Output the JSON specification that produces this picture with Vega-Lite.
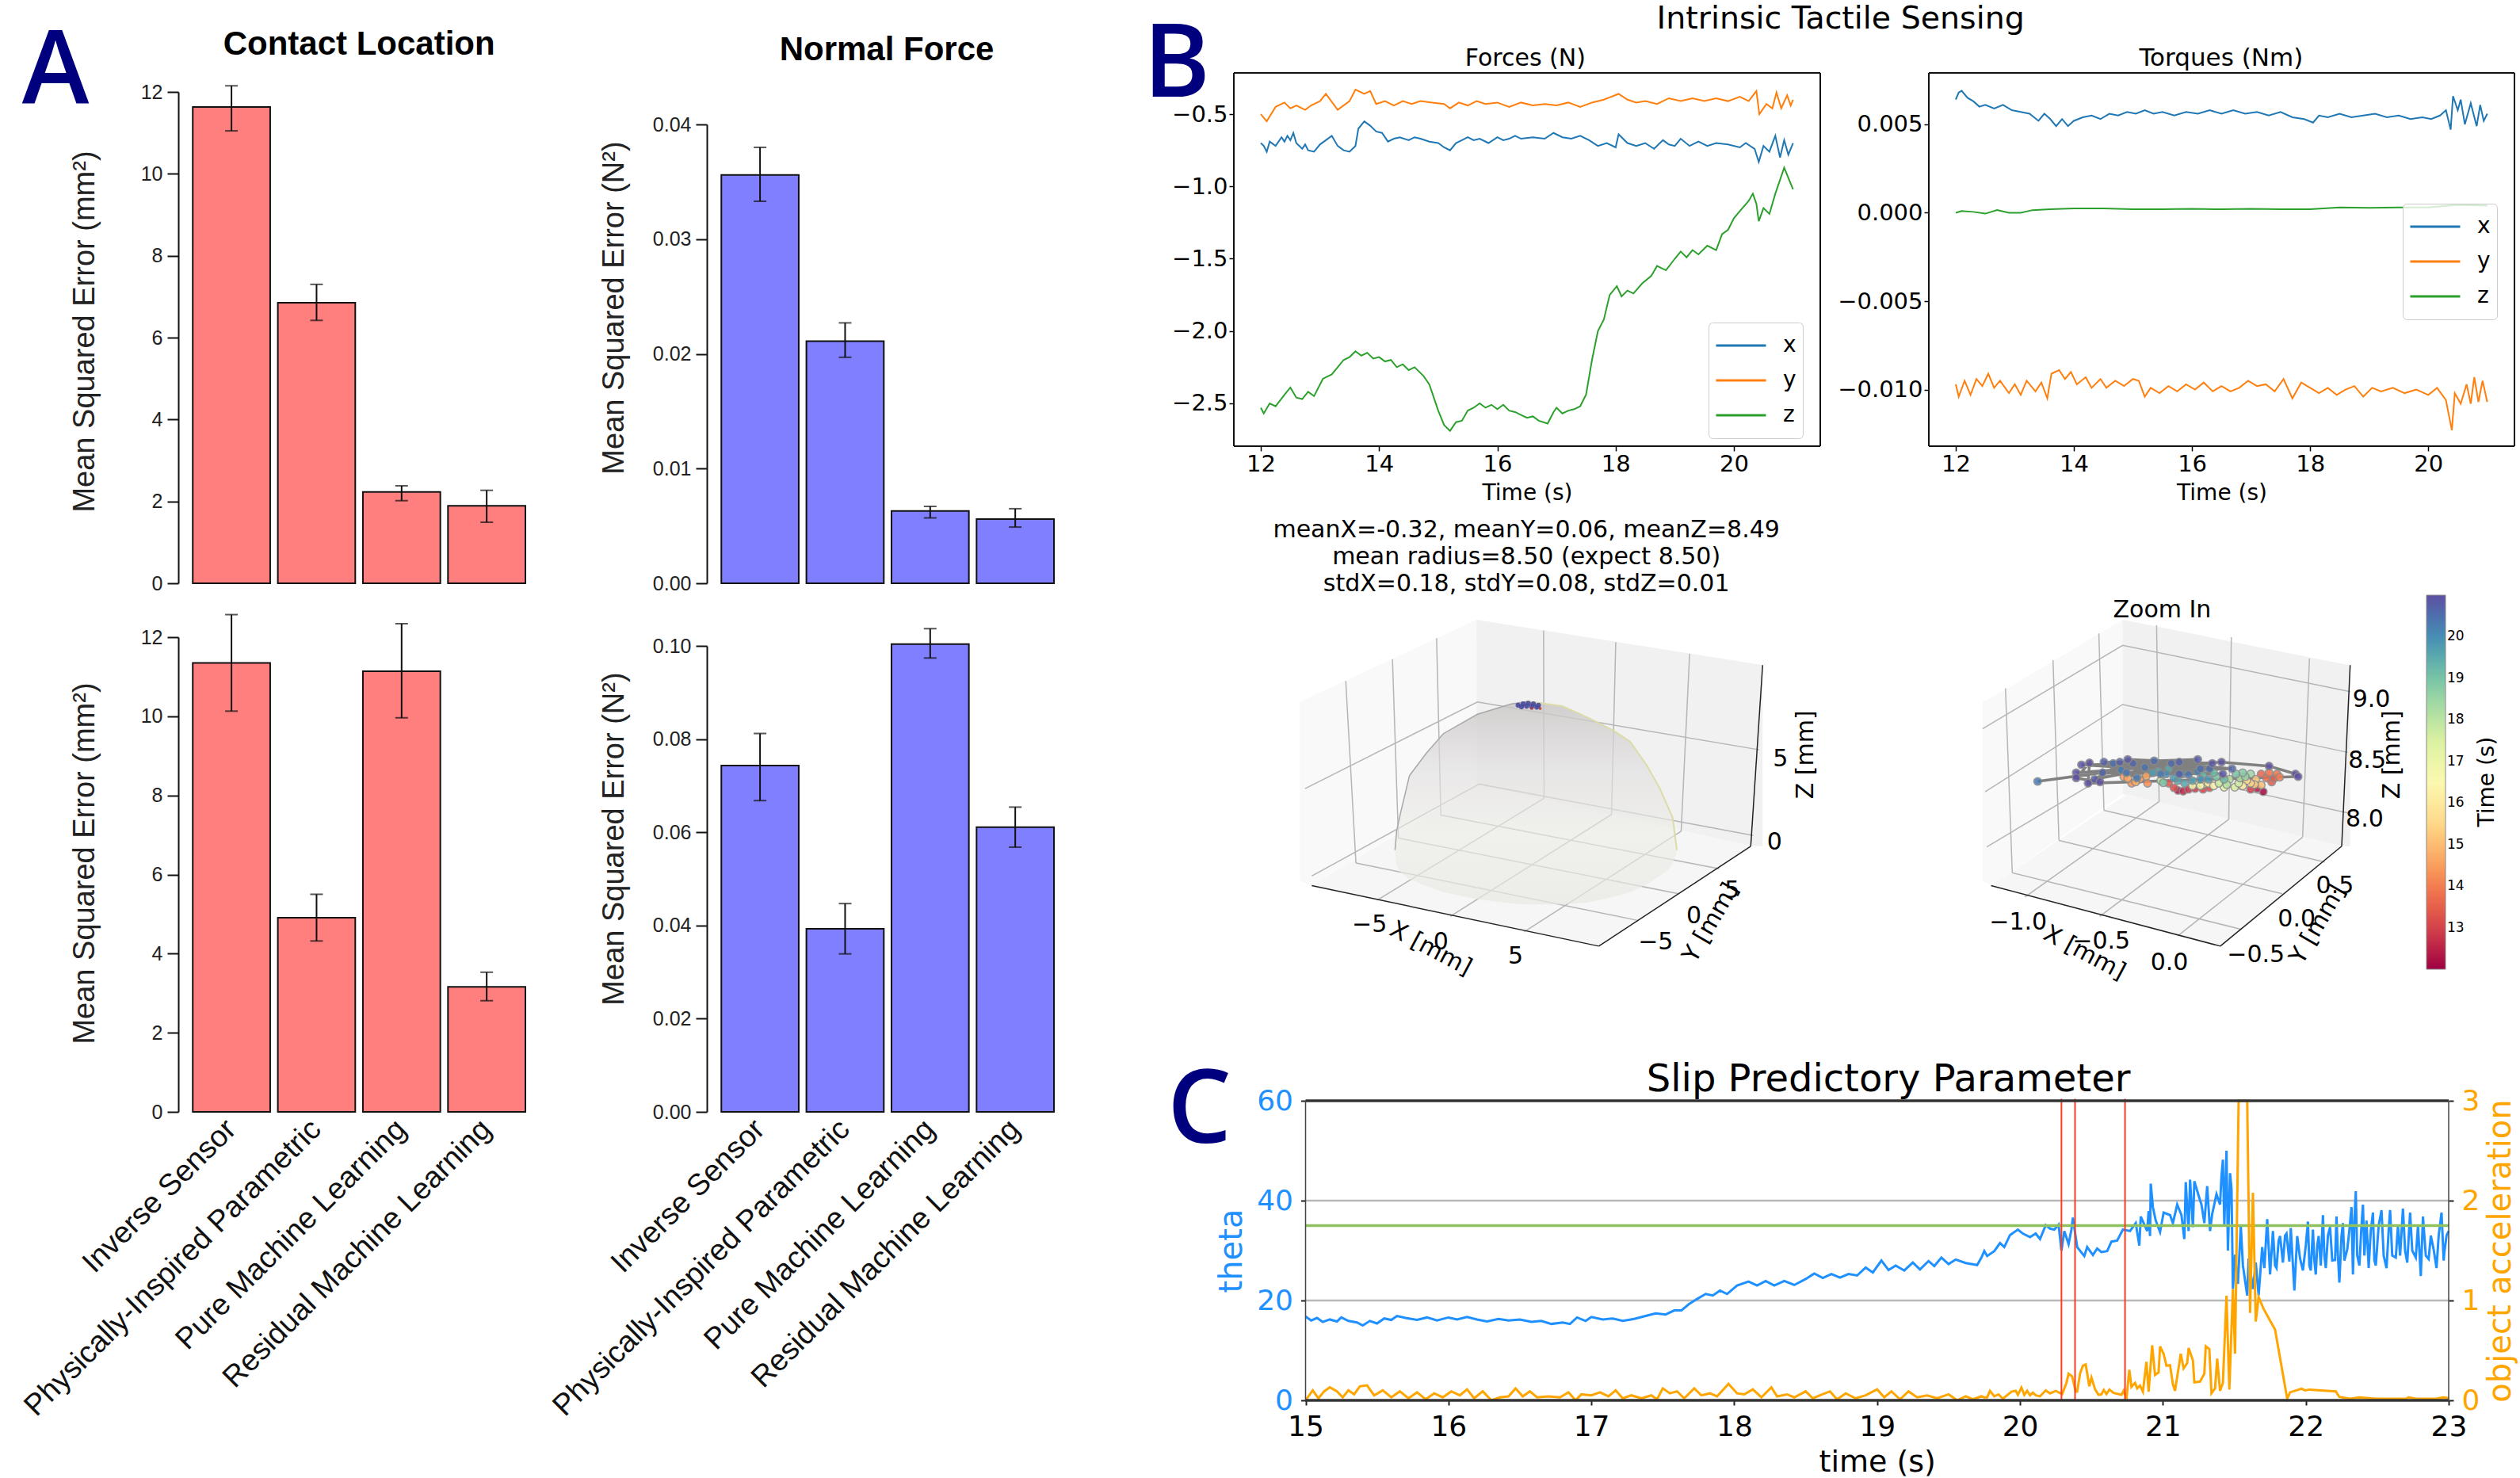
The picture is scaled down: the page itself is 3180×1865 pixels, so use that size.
{"$schema":"https://vega.github.io/schema/vega-lite/v6.json","width":3180,"height":1865,"autosize":{"type":"none"},"padding":0,"background":"white","view":{"stroke":null},
"resolve":{"scale":{"x":"independent","y":"independent","color":"independent"},"axis":{"x":"independent","y":"independent"},"legend":{"color":"independent"}},
"layer":[
{"resolve":{"axis":{"x":"independent","y":"independent"}},"data":{"values":[{"m":"Inverse Sensor","e":11.63,"lo":11.05,"hi":12.15},{"m":"Physically-Inspired Parametric","e":6.85,"lo":6.42,"hi":7.3},{"m":"Pure Machine Learning","e":2.23,"lo":2.02,"hi":2.38},{"m":"Residual Machine Learning","e":1.89,"lo":1.49,"hi":2.27}]},
"layer":[
{"mark":{"type":"bar","fill":"#ff7f7f","stroke":"#111","strokeWidth":2},"encoding":{"x":{"field":"m","type":"nominal","sort":null,"scale":{"range":[225,663],"paddingInner":0.09,"paddingOuter":0.085,"align":1},"axis":null},"y":{"field":"e","type":"quantitative","scale":{"domain":[0,12],"range":[736,116],"nice":false},"axis":{"orient":"left","offset":-225,"title":"Mean Squared Error (mm²)","titleFont":"Liberation Sans","titleFontSize":38,"titleFontWeight":"normal","titleX":-118,"titleY":418,"titleBaseline":"middle","titleColor":"#222","values":[0,2,4,6,8,10,12],"format":"d","labelFont":"Liberation Sans","labelFontSize":25,"labelColor":"#222","tickSize":14,"tickWidth":2,"tickColor":"#111","domainColor":"#111","domainWidth":2,"grid":false,"labelPadding":6}}}},
{"mark":{"type":"rule","color":"#111","strokeWidth":2},"encoding":{"x":{"field":"m","type":"nominal","sort":null,"axis":null},"y":{"field":"lo","type":"quantitative","axis":null},"y2":{"field":"hi"}}},
{"mark":{"type":"tick","orient":"horizontal","size":16,"thickness":2,"color":"#111"},"encoding":{"x":{"field":"m","type":"nominal","sort":null,"axis":null},"y":{"field":"lo","type":"quantitative","axis":null}}},
{"mark":{"type":"tick","orient":"horizontal","size":16,"thickness":2,"color":"#111"},"encoding":{"x":{"field":"m","type":"nominal","sort":null,"axis":null},"y":{"field":"hi","type":"quantitative","axis":null}}}
]},
{"resolve":{"axis":{"x":"independent","y":"independent"}},"data":{"values":[{"m":"Inverse Sensor","e":0.0356,"lo":0.0333,"hi":0.038},{"m":"Physically-Inspired Parametric","e":0.0211,"lo":0.0197,"hi":0.0227},{"m":"Pure Machine Learning","e":0.0063,"lo":0.0057,"hi":0.0067},{"m":"Residual Machine Learning","e":0.0056,"lo":0.0049,"hi":0.0065}]},
"layer":[
{"mark":{"type":"bar","fill":"#7f7fff","stroke":"#111","strokeWidth":2},"encoding":{"x":{"field":"m","type":"nominal","sort":null,"scale":{"range":[892,1330],"paddingInner":0.09,"paddingOuter":0.085,"align":1},"axis":null},"y":{"field":"e","type":"quantitative","scale":{"domain":[0,0.04],"range":[736,157],"nice":false},"axis":{"orient":"left","offset":-892,"title":"Mean Squared Error (N²)","titleFont":"Liberation Sans","titleFontSize":38,"titleFontWeight":"normal","titleX":-117,"titleY":388,"titleBaseline":"middle","titleColor":"#222","values":[0,0.01,0.02,0.03,0.04],"format":".2f","labelFont":"Liberation Sans","labelFontSize":25,"labelColor":"#222","tickSize":14,"tickWidth":2,"tickColor":"#111","domainColor":"#111","domainWidth":2,"grid":false,"labelPadding":6}}}},
{"mark":{"type":"rule","color":"#111","strokeWidth":2},"encoding":{"x":{"field":"m","type":"nominal","sort":null,"axis":null},"y":{"field":"lo","type":"quantitative","axis":null},"y2":{"field":"hi"}}},
{"mark":{"type":"tick","orient":"horizontal","size":16,"thickness":2,"color":"#111"},"encoding":{"x":{"field":"m","type":"nominal","sort":null,"axis":null},"y":{"field":"lo","type":"quantitative","axis":null}}},
{"mark":{"type":"tick","orient":"horizontal","size":16,"thickness":2,"color":"#111"},"encoding":{"x":{"field":"m","type":"nominal","sort":null,"axis":null},"y":{"field":"hi","type":"quantitative","axis":null}}}
]},
{"resolve":{"axis":{"x":"independent","y":"independent"}},"data":{"values":[{"m":"Inverse Sensor","e":11.35,"lo":10.13,"hi":12.57},{"m":"Physically-Inspired Parametric","e":4.91,"lo":4.32,"hi":5.5},{"m":"Pure Machine Learning","e":11.14,"lo":9.96,"hi":12.34},{"m":"Residual Machine Learning","e":3.16,"lo":2.81,"hi":3.53}]},
"layer":[
{"mark":{"type":"bar","fill":"#ff7f7f","stroke":"#111","strokeWidth":2},"encoding":{"x":{"field":"m","type":"nominal","sort":null,"title":null,"scale":{"range":[225,663],"paddingInner":0.09,"paddingOuter":0.085,"align":1},"axis":{"orient":"bottom","offset":-462,"labelAngle":-45,"labelAlign":"right","labelBaseline":"middle","labelPadding":16,"tickSize":0,"domain":false,"ticks":false,"labelFont":"Liberation Sans","labelFontSize":38,"labelColor":"#111","labelLimit":0,"labelOverlap":false,"grid":false}},"y":{"field":"e","type":"quantitative","scale":{"domain":[0,12],"range":[1403,804],"nice":false},"axis":{"orient":"left","offset":-225,"title":"Mean Squared Error (mm²)","titleFont":"Liberation Sans","titleFontSize":38,"titleFontWeight":"normal","titleX":-118,"titleY":1089,"titleBaseline":"middle","titleColor":"#222","values":[0,2,4,6,8,10,12],"format":"d","labelFont":"Liberation Sans","labelFontSize":25,"labelColor":"#222","tickSize":14,"tickWidth":2,"tickColor":"#111","domainColor":"#111","domainWidth":2,"grid":false,"labelPadding":6}}}},
{"mark":{"type":"rule","color":"#111","strokeWidth":2},"encoding":{"x":{"field":"m","type":"nominal","sort":null,"axis":null},"y":{"field":"lo","type":"quantitative","axis":null},"y2":{"field":"hi"}}},
{"mark":{"type":"tick","orient":"horizontal","size":16,"thickness":2,"color":"#111"},"encoding":{"x":{"field":"m","type":"nominal","sort":null,"axis":null},"y":{"field":"lo","type":"quantitative","axis":null}}},
{"mark":{"type":"tick","orient":"horizontal","size":16,"thickness":2,"color":"#111"},"encoding":{"x":{"field":"m","type":"nominal","sort":null,"axis":null},"y":{"field":"hi","type":"quantitative","axis":null}}}
]},
{"resolve":{"axis":{"x":"independent","y":"independent"}},"data":{"values":[{"m":"Inverse Sensor","e":0.0743,"lo":0.0668,"hi":0.0812},{"m":"Physically-Inspired Parametric","e":0.0393,"lo":0.0339,"hi":0.0447},{"m":"Pure Machine Learning","e":0.1004,"lo":0.0974,"hi":0.1037},{"m":"Residual Machine Learning","e":0.0611,"lo":0.0568,"hi":0.0654}]},
"layer":[
{"mark":{"type":"bar","fill":"#7f7fff","stroke":"#111","strokeWidth":2},"encoding":{"x":{"field":"m","type":"nominal","sort":null,"title":null,"scale":{"range":[892,1330],"paddingInner":0.09,"paddingOuter":0.085,"align":1},"axis":{"orient":"bottom","offset":-462,"labelAngle":-45,"labelAlign":"right","labelBaseline":"middle","labelPadding":16,"tickSize":0,"domain":false,"ticks":false,"labelFont":"Liberation Sans","labelFontSize":38,"labelColor":"#111","labelLimit":0,"labelOverlap":false,"grid":false}},"y":{"field":"e","type":"quantitative","scale":{"domain":[0,0.1],"range":[1403,815],"nice":false},"axis":{"orient":"left","offset":-892,"title":"Mean Squared Error (N²)","titleFont":"Liberation Sans","titleFontSize":38,"titleFontWeight":"normal","titleX":-117,"titleY":1058,"titleBaseline":"middle","titleColor":"#222","values":[0,0.02,0.04,0.06,0.08,0.1],"format":".2f","labelFont":"Liberation Sans","labelFontSize":25,"labelColor":"#222","tickSize":14,"tickWidth":2,"tickColor":"#111","domainColor":"#111","domainWidth":2,"grid":false,"labelPadding":6}}}},
{"mark":{"type":"rule","color":"#111","strokeWidth":2},"encoding":{"x":{"field":"m","type":"nominal","sort":null,"axis":null},"y":{"field":"lo","type":"quantitative","axis":null},"y2":{"field":"hi"}}},
{"mark":{"type":"tick","orient":"horizontal","size":16,"thickness":2,"color":"#111"},"encoding":{"x":{"field":"m","type":"nominal","sort":null,"axis":null},"y":{"field":"lo","type":"quantitative","axis":null}}},
{"mark":{"type":"tick","orient":"horizontal","size":16,"thickness":2,"color":"#111"},"encoding":{"x":{"field":"m","type":"nominal","sort":null,"axis":null},"y":{"field":"hi","type":"quantitative","axis":null}}}
]},
{"resolve":{"axis":{"x":"independent","y":"independent"}},"layer":[
{"data":{"values":[
{"c":"x","t":12,"v":-0.7},{"c":"x","t":12.05,"v":-0.72},{"c":"x","t":12.1,"v":-0.76},{"c":"x","t":12.15,"v":-0.69},{"c":"x","t":12.25,"v":-0.72},{"c":"x","t":12.35,"v":-0.66},{"c":"x","t":12.4,"v":-0.69},{"c":"x","t":12.45,"v":-0.65},{"c":"x","t":12.5,"v":-0.68},{"c":"x","t":12.55,"v":-0.63},{"c":"x","t":12.6,"v":-0.7},{"c":"x","t":12.7,"v":-0.74},{"c":"x","t":12.75,"v":-0.71},{"c":"x","t":12.8,"v":-0.75},{"c":"x","t":12.9,"v":-0.76},{"c":"x","t":13,"v":-0.71},{"c":"x","t":13.1,"v":-0.68},{"c":"x","t":13.2,"v":-0.65},{"c":"x","t":13.3,"v":-0.72},{"c":"x","t":13.4,"v":-0.75},{"c":"x","t":13.5,"v":-0.76},{"c":"x","t":13.6,"v":-0.72},{"c":"x","t":13.65,"v":-0.6},{"c":"x","t":13.75,"v":-0.55},{"c":"x","t":13.85,"v":-0.58},{"c":"x","t":13.95,"v":-0.62},{"c":"x","t":14.05,"v":-0.63},{"c":"x","t":14.15,"v":-0.69},{"c":"x","t":14.25,"v":-0.67},{"c":"x","t":14.35,"v":-0.66},{"c":"x","t":14.5,"v":-0.68},{"c":"x","t":14.6,"v":-0.66},{"c":"x","t":14.7,"v":-0.67},{"c":"x","t":14.85,"v":-0.69},{"c":"x","t":15,"v":-0.7},{"c":"x","t":15.1,"v":-0.73},{"c":"x","t":15.2,"v":-0.75},{"c":"x","t":15.3,"v":-0.7},{"c":"x","t":15.4,"v":-0.68},{"c":"x","t":15.5,"v":-0.66},{"c":"x","t":15.6,"v":-0.68},{"c":"x","t":15.7,"v":-0.67},{"c":"x","t":15.85,"v":-0.7},{"c":"x","t":16,"v":-0.66},{"c":"x","t":16.1,"v":-0.68},{"c":"x","t":16.2,"v":-0.67},{"c":"x","t":16.3,"v":-0.65},{"c":"x","t":16.4,"v":-0.67},{"c":"x","t":16.6,"v":-0.66},{"c":"x","t":16.8,"v":-0.67},{"c":"x","t":16.95,"v":-0.63},{"c":"x","t":17.1,"v":-0.66},{"c":"x","t":17.25,"v":-0.67},{"c":"x","t":17.4,"v":-0.65},{"c":"x","t":17.55,"v":-0.68},{"c":"x","t":17.7,"v":-0.72},{"c":"x","t":17.85,"v":-0.7},{"c":"x","t":18,"v":-0.73},{"c":"x","t":18.05,"v":-0.64},{"c":"x","t":18.2,"v":-0.7},{"c":"x","t":18.35,"v":-0.72},{"c":"x","t":18.5,"v":-0.7},{"c":"x","t":18.65,"v":-0.74},{"c":"x","t":18.8,"v":-0.68},{"c":"x","t":18.9,"v":-0.71},{"c":"x","t":19,"v":-0.72},{"c":"x","t":19.1,"v":-0.67},{"c":"x","t":19.25,"v":-0.72},{"c":"x","t":19.4,"v":-0.69},{"c":"x","t":19.55,"v":-0.72},{"c":"x","t":19.7,"v":-0.7},{"c":"x","t":19.9,"v":-0.71},{"c":"x","t":20.1,"v":-0.73},{"c":"x","t":20.2,"v":-0.7},{"c":"x","t":20.35,"v":-0.74},{"c":"x","t":20.42,"v":-0.83},{"c":"x","t":20.5,"v":-0.72},{"c":"x","t":20.6,"v":-0.76},{"c":"x","t":20.7,"v":-0.65},{"c":"x","t":20.78,"v":-0.8},{"c":"x","t":20.85,"v":-0.68},{"c":"x","t":20.92,"v":-0.78},{"c":"x","t":21,"v":-0.7},
{"c":"y","t":12,"v":-0.5},{"c":"y","t":12.1,"v":-0.55},{"c":"y","t":12.25,"v":-0.45},{"c":"y","t":12.4,"v":-0.42},{"c":"y","t":12.5,"v":-0.46},{"c":"y","t":12.6,"v":-0.44},{"c":"y","t":12.75,"v":-0.47},{"c":"y","t":12.85,"v":-0.44},{"c":"y","t":13,"v":-0.41},{"c":"y","t":13.1,"v":-0.36},{"c":"y","t":13.3,"v":-0.47},{"c":"y","t":13.5,"v":-0.41},{"c":"y","t":13.6,"v":-0.33},{"c":"y","t":13.75,"v":-0.36},{"c":"y","t":13.85,"v":-0.34},{"c":"y","t":13.95,"v":-0.43},{"c":"y","t":14.1,"v":-0.41},{"c":"y","t":14.25,"v":-0.44},{"c":"y","t":14.4,"v":-0.41},{"c":"y","t":14.55,"v":-0.43},{"c":"y","t":14.7,"v":-0.41},{"c":"y","t":14.9,"v":-0.42},{"c":"y","t":15.1,"v":-0.43},{"c":"y","t":15.2,"v":-0.46},{"c":"y","t":15.35,"v":-0.42},{"c":"y","t":15.5,"v":-0.44},{"c":"y","t":15.65,"v":-0.41},{"c":"y","t":15.8,"v":-0.43},{"c":"y","t":16,"v":-0.42},{"c":"y","t":16.2,"v":-0.45},{"c":"y","t":16.4,"v":-0.42},{"c":"y","t":16.6,"v":-0.44},{"c":"y","t":16.8,"v":-0.43},{"c":"y","t":17,"v":-0.44},{"c":"y","t":17.2,"v":-0.42},{"c":"y","t":17.4,"v":-0.45},{"c":"y","t":17.6,"v":-0.42},{"c":"y","t":17.8,"v":-0.4},{"c":"y","t":18.05,"v":-0.36},{"c":"y","t":18.2,"v":-0.4},{"c":"y","t":18.35,"v":-0.42},{"c":"y","t":18.5,"v":-0.41},{"c":"y","t":18.7,"v":-0.43},{"c":"y","t":18.9,"v":-0.39},{"c":"y","t":19.1,"v":-0.41},{"c":"y","t":19.3,"v":-0.39},{"c":"y","t":19.5,"v":-0.41},{"c":"y","t":19.7,"v":-0.39},{"c":"y","t":19.9,"v":-0.41},{"c":"y","t":20.1,"v":-0.38},{"c":"y","t":20.25,"v":-0.41},{"c":"y","t":20.38,"v":-0.34},{"c":"y","t":20.43,"v":-0.5},{"c":"y","t":20.55,"v":-0.43},{"c":"y","t":20.65,"v":-0.46},{"c":"y","t":20.72,"v":-0.35},{"c":"y","t":20.8,"v":-0.46},{"c":"y","t":20.9,"v":-0.37},{"c":"y","t":20.96,"v":-0.44},{"c":"y","t":21,"v":-0.4},
{"c":"z","t":12,"v":-2.53},{"c":"z","t":12.05,"v":-2.57},{"c":"z","t":12.15,"v":-2.5},{"c":"z","t":12.25,"v":-2.52},{"c":"z","t":12.4,"v":-2.44},{"c":"z","t":12.5,"v":-2.39},{"c":"z","t":12.6,"v":-2.46},{"c":"z","t":12.7,"v":-2.47},{"c":"z","t":12.8,"v":-2.42},{"c":"z","t":12.9,"v":-2.45},{"c":"z","t":13.05,"v":-2.33},{"c":"z","t":13.2,"v":-2.3},{"c":"z","t":13.3,"v":-2.25},{"c":"z","t":13.4,"v":-2.2},{"c":"z","t":13.5,"v":-2.18},{"c":"z","t":13.6,"v":-2.14},{"c":"z","t":13.7,"v":-2.17},{"c":"z","t":13.8,"v":-2.15},{"c":"z","t":13.9,"v":-2.19},{"c":"z","t":14,"v":-2.18},{"c":"z","t":14.1,"v":-2.21},{"c":"z","t":14.2,"v":-2.2},{"c":"z","t":14.3,"v":-2.25},{"c":"z","t":14.4,"v":-2.23},{"c":"z","t":14.5,"v":-2.27},{"c":"z","t":14.6,"v":-2.25},{"c":"z","t":14.75,"v":-2.31},{"c":"z","t":14.85,"v":-2.37},{"c":"z","t":15,"v":-2.55},{"c":"z","t":15.1,"v":-2.65},{"c":"z","t":15.2,"v":-2.69},{"c":"z","t":15.3,"v":-2.63},{"c":"z","t":15.4,"v":-2.62},{"c":"z","t":15.5,"v":-2.55},{"c":"z","t":15.6,"v":-2.53},{"c":"z","t":15.7,"v":-2.5},{"c":"z","t":15.8,"v":-2.53},{"c":"z","t":15.9,"v":-2.51},{"c":"z","t":16,"v":-2.54},{"c":"z","t":16.1,"v":-2.51},{"c":"z","t":16.2,"v":-2.55},{"c":"z","t":16.3,"v":-2.56},{"c":"z","t":16.4,"v":-2.58},{"c":"z","t":16.5,"v":-2.6},{"c":"z","t":16.6,"v":-2.59},{"c":"z","t":16.7,"v":-2.62},{"c":"z","t":16.85,"v":-2.64},{"c":"z","t":16.95,"v":-2.56},{"c":"z","t":17,"v":-2.53},{"c":"z","t":17.1,"v":-2.57},{"c":"z","t":17.2,"v":-2.55},{"c":"z","t":17.3,"v":-2.54},{"c":"z","t":17.4,"v":-2.52},{"c":"z","t":17.5,"v":-2.44},{"c":"z","t":17.6,"v":-2.2},{"c":"z","t":17.7,"v":-2},{"c":"z","t":17.8,"v":-1.92},{"c":"z","t":17.9,"v":-1.75},{"c":"z","t":18.02,"v":-1.69},{"c":"z","t":18.1,"v":-1.76},{"c":"z","t":18.2,"v":-1.72},{"c":"z","t":18.3,"v":-1.74},{"c":"z","t":18.45,"v":-1.67},{"c":"z","t":18.6,"v":-1.62},{"c":"z","t":18.7,"v":-1.55},{"c":"z","t":18.85,"v":-1.58},{"c":"z","t":19,"v":-1.5},{"c":"z","t":19.1,"v":-1.45},{"c":"z","t":19.2,"v":-1.49},{"c":"z","t":19.3,"v":-1.44},{"c":"z","t":19.4,"v":-1.47},{"c":"z","t":19.55,"v":-1.41},{"c":"z","t":19.7,"v":-1.44},{"c":"z","t":19.8,"v":-1.33},{"c":"z","t":19.9,"v":-1.3},{"c":"z","t":20,"v":-1.22},{"c":"z","t":20.1,"v":-1.17},{"c":"z","t":20.25,"v":-1.1},{"c":"z","t":20.32,"v":-1.05},{"c":"z","t":20.38,"v":-1.12},{"c":"z","t":20.42,"v":-1.24},{"c":"z","t":20.5,"v":-1.15},{"c":"z","t":20.6,"v":-1.19},{"c":"z","t":20.7,"v":-1.05},{"c":"z","t":20.85,"v":-0.87},{"c":"z","t":20.95,"v":-0.97},{"c":"z","t":21,"v":-1.02}
]},
"mark":{"type":"line","strokeWidth":2,"clip":false},
"encoding":{"x":{"field":"t","type":"quantitative","scale":{"domain":[11.544,21.46],"range":[1557,2297],"nice":false},"axis":{"orient":"bottom","offset":-1302,"title":"Time (s)","titleFont":"DejaVu Sans","titleFontSize":28,"titleFontWeight":"normal","titleColor":"#000","titleY":59,"titleBaseline":"middle","values":[12,14,16,18,20],"format":"d","labelFlush":false,"labelFont":"DejaVu Sans","labelFontSize":29,"labelColor":"#000","tickSize":6,"tickWidth":1.5,"tickColor":"#000","domain":false,"grid":false}},
"y":{"field":"v","type":"quantitative","scale":{"domain":[-2.796,-0.215],"range":[563,92],"nice":false},"axis":{"orient":"left","offset":-1557,"title":null,"values":[-0.5,-1,-1.5,-2,-2.5],"format":".1f","labelFont":"DejaVu Sans","labelFontSize":29,"labelColor":"#000","tickSize":6,"tickWidth":1.5,"tickColor":"#000","domain":false,"grid":false}},
"color":{"field":"c","type":"nominal","scale":{"domain":["x","y","z"],"range":["#1f77b4","#ff7f0e","#2ca02c"]},"legend":{"orient":"none","legendX":2156,"legendY":407,"title":null,"symbolType":"stroke","symbolSize":3969,"symbolStrokeWidth":3,"labelFont":"DejaVu Sans","labelFontSize":28,"labelColor":"#000","fillColor":"#ffffffcc","strokeColor":"#ccc","cornerRadius":5,"padding":8,"clipHeight":42,"rowPadding":2,"labelOffset":20}}}},
{"data":{"values":[{"v":-0.215},{"v":-2.796}]},"mark":{"type":"rule","color":"#111","strokeWidth":2},"encoding":{"x":{"datum":11.544,"axis":null},"x2":{"datum":21.46},"y":{"field":"v","type":"quantitative","axis":null}}},
{"data":{"values":[{"t":11.544},{"t":21.46}]},"mark":{"type":"rule","color":"#111","strokeWidth":2},"encoding":{"x":{"field":"t","type":"quantitative","axis":null},"y":{"datum":-0.215,"axis":null},"y2":{"datum":-2.796}}}
]},
{"resolve":{"axis":{"x":"independent","y":"independent"}},"layer":[
{"data":{"values":[
{"c":"x","t":12,"v":0.0064},{"c":"x","t":12.05,"v":0.0068},{"c":"x","t":12.1,"v":0.0069},{"c":"x","t":12.2,"v":0.0065},{"c":"x","t":12.3,"v":0.0063},{"c":"x","t":12.4,"v":0.006},{"c":"x","t":12.5,"v":0.0061},{"c":"x","t":12.65,"v":0.0059},{"c":"x","t":12.8,"v":0.0061},{"c":"x","t":12.95,"v":0.0058},{"c":"x","t":13.1,"v":0.0057},{"c":"x","t":13.25,"v":0.0056},{"c":"x","t":13.4,"v":0.0052},{"c":"x","t":13.5,"v":0.0056},{"c":"x","t":13.6,"v":0.0053},{"c":"x","t":13.7,"v":0.0049},{"c":"x","t":13.8,"v":0.0053},{"c":"x","t":13.9,"v":0.0049},{"c":"x","t":14,"v":0.0052},{"c":"x","t":14.15,"v":0.0054},{"c":"x","t":14.3,"v":0.0055},{"c":"x","t":14.45,"v":0.0053},{"c":"x","t":14.6,"v":0.0056},{"c":"x","t":14.75,"v":0.0055},{"c":"x","t":14.9,"v":0.0057},{"c":"x","t":15.05,"v":0.0056},{"c":"x","t":15.2,"v":0.0058},{"c":"x","t":15.35,"v":0.0056},{"c":"x","t":15.5,"v":0.0057},{"c":"x","t":15.7,"v":0.0055},{"c":"x","t":15.9,"v":0.0057},{"c":"x","t":16.1,"v":0.0056},{"c":"x","t":16.3,"v":0.0058},{"c":"x","t":16.5,"v":0.0056},{"c":"x","t":16.7,"v":0.0058},{"c":"x","t":16.9,"v":0.0056},{"c":"x","t":17.1,"v":0.0057},{"c":"x","t":17.3,"v":0.0055},{"c":"x","t":17.5,"v":0.0057},{"c":"x","t":17.7,"v":0.0054},{"c":"x","t":17.9,"v":0.0053},{"c":"x","t":18.05,"v":0.0051},{"c":"x","t":18.15,"v":0.0055},{"c":"x","t":18.3,"v":0.0054},{"c":"x","t":18.5,"v":0.0056},{"c":"x","t":18.7,"v":0.0054},{"c":"x","t":18.9,"v":0.0055},{"c":"x","t":19.1,"v":0.0056},{"c":"x","t":19.3,"v":0.0054},{"c":"x","t":19.5,"v":0.0055},{"c":"x","t":19.7,"v":0.0053},{"c":"x","t":19.9,"v":0.0054},{"c":"x","t":20.05,"v":0.0053},{"c":"x","t":20.2,"v":0.0055},{"c":"x","t":20.3,"v":0.0058},{"c":"x","t":20.38,"v":0.0047},{"c":"x","t":20.42,"v":0.0066},{"c":"x","t":20.5,"v":0.0058},{"c":"x","t":20.55,"v":0.0064},{"c":"x","t":20.62,"v":0.005},{"c":"x","t":20.72,"v":0.0062},{"c":"x","t":20.82,"v":0.0049},{"c":"x","t":20.88,"v":0.0061},{"c":"x","t":20.94,"v":0.0052},{"c":"x","t":21,"v":0.0056},
{"c":"y","t":12,"v":-0.0097},{"c":"y","t":12.05,"v":-0.0104},{"c":"y","t":12.15,"v":-0.0095},{"c":"y","t":12.25,"v":-0.0103},{"c":"y","t":12.35,"v":-0.0094},{"c":"y","t":12.45,"v":-0.0098},{"c":"y","t":12.55,"v":-0.0091},{"c":"y","t":12.65,"v":-0.0099},{"c":"y","t":12.75,"v":-0.0095},{"c":"y","t":12.9,"v":-0.0102},{"c":"y","t":13,"v":-0.0097},{"c":"y","t":13.1,"v":-0.0103},{"c":"y","t":13.2,"v":-0.0095},{"c":"y","t":13.35,"v":-0.0101},{"c":"y","t":13.45,"v":-0.0096},{"c":"y","t":13.55,"v":-0.0105},{"c":"y","t":13.62,"v":-0.0091},{"c":"y","t":13.75,"v":-0.0089},{"c":"y","t":13.85,"v":-0.0094},{"c":"y","t":13.95,"v":-0.009},{"c":"y","t":14.05,"v":-0.0097},{"c":"y","t":14.2,"v":-0.0093},{"c":"y","t":14.3,"v":-0.0099},{"c":"y","t":14.45,"v":-0.0094},{"c":"y","t":14.55,"v":-0.0099},{"c":"y","t":14.7,"v":-0.0095},{"c":"y","t":14.85,"v":-0.0098},{"c":"y","t":15,"v":-0.0094},{"c":"y","t":15.1,"v":-0.0095},{"c":"y","t":15.2,"v":-0.0104},{"c":"y","t":15.3,"v":-0.0099},{"c":"y","t":15.45,"v":-0.0102},{"c":"y","t":15.6,"v":-0.0098},{"c":"y","t":15.75,"v":-0.0101},{"c":"y","t":15.9,"v":-0.0097},{"c":"y","t":16.05,"v":-0.01},{"c":"y","t":16.2,"v":-0.0096},{"c":"y","t":16.35,"v":-0.0101},{"c":"y","t":16.5,"v":-0.0098},{"c":"y","t":16.65,"v":-0.0101},{"c":"y","t":16.8,"v":-0.0099},{"c":"y","t":16.95,"v":-0.0095},{"c":"y","t":17.1,"v":-0.0098},{"c":"y","t":17.25,"v":-0.0097},{"c":"y","t":17.4,"v":-0.0101},{"c":"y","t":17.55,"v":-0.0094},{"c":"y","t":17.7,"v":-0.0105},{"c":"y","t":17.85,"v":-0.0096},{"c":"y","t":18,"v":-0.0099},{"c":"y","t":18.15,"v":-0.0102},{"c":"y","t":18.3,"v":-0.0099},{"c":"y","t":18.45,"v":-0.0103},{"c":"y","t":18.6,"v":-0.01},{"c":"y","t":18.75,"v":-0.0098},{"c":"y","t":18.9,"v":-0.0104},{"c":"y","t":19.05,"v":-0.0099},{"c":"y","t":19.2,"v":-0.0101},{"c":"y","t":19.4,"v":-0.0099},{"c":"y","t":19.6,"v":-0.0102},{"c":"y","t":19.8,"v":-0.01},{"c":"y","t":20,"v":-0.0103},{"c":"y","t":20.15,"v":-0.0099},{"c":"y","t":20.3,"v":-0.0106},{"c":"y","t":20.4,"v":-0.0123},{"c":"y","t":20.45,"v":-0.0102},{"c":"y","t":20.55,"v":-0.0108},{"c":"y","t":20.65,"v":-0.0097},{"c":"y","t":20.72,"v":-0.0108},{"c":"y","t":20.78,"v":-0.0093},{"c":"y","t":20.85,"v":-0.0107},{"c":"y","t":20.92,"v":-0.0095},{"c":"y","t":21,"v":-0.0107},
{"c":"z","t":12,"v":0},{"c":"z","t":12.1,"v":0.0001},{"c":"z","t":12.3,"v":0.00005},{"c":"z","t":12.5,"v":-0.00005},{"c":"z","t":12.7,"v":0.00015},{"c":"z","t":12.9,"v":0},{"c":"z","t":13.1,"v":0},{"c":"z","t":13.3,"v":0.00015},{"c":"z","t":13.6,"v":0.0002},{"c":"z","t":14,"v":0.00025},{"c":"z","t":14.5,"v":0.00025},{"c":"z","t":15,"v":0.0002},{"c":"z","t":15.5,"v":0.0002},{"c":"z","t":16,"v":0.00022},{"c":"z","t":16.5,"v":0.0002},{"c":"z","t":17,"v":0.00022},{"c":"z","t":17.5,"v":0.0002},{"c":"z","t":18,"v":0.0002},{"c":"z","t":18.5,"v":0.0003},{"c":"z","t":19,"v":0.00028},{"c":"z","t":19.5,"v":0.0003},{"c":"z","t":20,"v":0.0003},{"c":"z","t":20.5,"v":0.00045},{"c":"z","t":21,"v":0.0004}
]},
"mark":{"type":"line","strokeWidth":2},
"encoding":{"x":{"field":"t","type":"quantitative","scale":{"domain":[11.544,21.46],"range":[2434,3173],"nice":false},"axis":{"orient":"bottom","offset":-1302,"title":"Time (s)","titleFont":"DejaVu Sans","titleFontSize":28,"titleFontWeight":"normal","titleColor":"#000","titleY":59,"titleBaseline":"middle","values":[12,14,16,18,20],"format":"d","labelFlush":false,"labelFont":"DejaVu Sans","labelFontSize":29,"labelColor":"#000","tickSize":6,"tickWidth":1.5,"tickColor":"#000","domain":false,"grid":false}},
"y":{"field":"v","type":"quantitative","scale":{"domain":[-0.0132,0.00791],"range":[563,92],"nice":false},"axis":{"orient":"left","offset":-2434,"title":null,"values":[0.005,0,-0.005,-0.01],"format":".3f","labelFont":"DejaVu Sans","labelFontSize":29,"labelColor":"#000","tickSize":6,"tickWidth":1.5,"tickColor":"#000","domain":false,"grid":false}},
"color":{"field":"c","type":"nominal","scale":{"domain":["x","y","z"],"range":["#1f77b4","#ff7f0e","#2ca02c"]},"legend":{"orient":"none","legendX":3032,"legendY":257,"title":null,"symbolType":"stroke","symbolSize":3969,"symbolStrokeWidth":3,"labelFont":"DejaVu Sans","labelFontSize":28,"labelColor":"#000","fillColor":"#ffffffcc","strokeColor":"#ccc","cornerRadius":5,"padding":8,"clipHeight":42,"rowPadding":2,"labelOffset":20}}}},
{"data":{"values":[{"v":0.00791},{"v":-0.0132}]},"mark":{"type":"rule","color":"#111","strokeWidth":2},"encoding":{"x":{"datum":11.544,"axis":null},"x2":{"datum":21.46},"y":{"field":"v","type":"quantitative","axis":null}}},
{"data":{"values":[{"t":11.544},{"t":21.46}]},"mark":{"type":"rule","color":"#111","strokeWidth":2},"encoding":{"x":{"field":"t","type":"quantitative","axis":null},"y":{"datum":0.00791,"axis":null},"y2":{"datum":-0.0132}}}
]},
{"encoding":{"x":{"field":"u","type":"quantitative","scale":{"domain":[0,1568],"range":[1500,3180],"nice":false},"axis":null},"y":{"field":"v","type":"quantitative","scale":{"domain":[0,1568],"range":[640,1280],"nice":false},"axis":null}},
"layer":[
{"data":{"values":[
{"w":"p1l","u":131,"v":602,"v2":1155},{"w":"p1l","u":145,"v":585,"v2":1170},{"w":"p1l","u":339,"v":348,"v2":856},
{"w":"p1r","u":339,"v":348,"v2":856},{"w":"p1r","u":662,"v":482,"v2":1048},{"w":"p1r","u":676,"v":488,"v2":1048},
{"w":"p1f","u":145,"v":1170,"v2":1170},{"w":"p1f","u":342,"v":856,"v2":1279},{"w":"p1f","u":483,"v":941,"v2":1357},{"w":"p1f","u":662,"v":1048,"v2":1048},
{"w":"p2l","u":935,"v":602,"v2":1155},{"w":"p2l","u":945,"v":590,"v2":1170},{"w":"p2l","u":1100,"v":348,"v2":887},
{"w":"p2r","u":1100,"v":348,"v2":887},{"w":"p2r","u":1358,"v":484,"v2":1048},{"w":"p2r","u":1368,"v":488,"v2":1048},
{"w":"p2f","u":945,"v":1170,"v2":1170},{"w":"p2f","u":1105,"v":887,"v2":1281},{"w":"p2f","u":1215,"v":957,"v2":1357},{"w":"p2f","u":1358,"v":1048,"v2":1048}
]},"mark":{"type":"area","interpolate":"linear"},"encoding":{"y2":{"field":"v2"},"color":{"field":"w","type":"nominal","legend":null,"scale":{"domain":["p1l","p1r","p1f","p2l","p2r","p2f"],"range":["#f9f9f9","#f1f1f1","#f6f6f6","#f9f9f9","#f1f1f1","#f6f6f6"]}}}},
{"data":{"values":[
{"g":"a","u":185,"v":537},{"g":"a","u":197,"v":1100},{"g":"b","u":240,"v":470},{"g":"b","u":247,"v":1023},{"g":"c","u":292,"v":405},{"g":"c","u":297,"v":952},
{"g":"d","u":418,"v":381},{"g":"d","u":418.5,"v":900},{"g":"e","u":498,"v":950},{"g":"e","u":503,"v":417},{"g":"f","u":580,"v":1002},{"g":"f","u":590,"v":453},
{"g":"g","u":137,"v":870},{"g":"g","u":340,"v":602},{"g":"g","u":672,"v":750},{"g":"h","u":145,"v":1140},{"g":"h","u":342,"v":856},{"g":"h","u":665,"v":1015},
{"g":"i","u":222,"v":1215},{"g":"i","u":418.5,"v":900},{"g":"j","u":308,"v":1265},{"g":"j","u":498,"v":950},{"g":"k","u":395,"v":1313},{"g":"k","u":580,"v":1002},
{"g":"l","u":297,"v":952},{"g":"l","u":625,"v":1118},{"g":"m","u":247,"v":1023},{"g":"m","u":577,"v":1195},{"g":"n","u":197,"v":1100},{"g":"n","u":530,"v":1278},
{"g":"o","u":962,"v":560},{"g":"o","u":970,"v":1130},{"g":"p","u":1018,"v":473},{"g":"p","u":1025,"v":1030},{"g":"q","u":1072,"v":390},{"g":"q","u":1078,"v":937},
{"g":"r","u":1140,"v":365},{"g":"r","u":1143,"v":910},{"g":"s","u":1225,"v":965},{"g":"s","u":1228,"v":402},{"g":"t","u":1312,"v":1020},{"g":"t","u":1320,"v":468},
{"g":"u","u":935,"v":685},{"g":"u","u":1100,"v":427},{"g":"u","u":1368,"v":570},{"g":"w","u":938,"v":880},{"g":"w","u":1100,"v":610},{"g":"w","u":1365,"v":758},{"g":"x","u":940,"v":1050},{"g":"x","u":1103,"v":795},{"g":"x","u":1365,"v":945},
{"g":"y","u":985,"v":1205},{"g":"y","u":1143,"v":910},{"g":"z","u":1073,"v":1265},{"g":"z","u":1225,"v":965},{"g":"aa","u":1165,"v":1325},{"g":"aa","u":1312,"v":1020},
{"g":"ab","u":1078,"v":937},{"g":"ab","u":1338,"v":1097},{"g":"ac","u":1025,"v":1030},{"g":"ac","u":1288,"v":1195},{"g":"ad","u":970,"v":1130},{"g":"ad","u":1240,"v":1305}
]},"mark":{"type":"line","color":"#b5b5b5","strokeWidth":1.5},"encoding":{"detail":{"field":"g"}}},
{"data":{"values":[
{"g":"a","u":145,"v":1170},{"g":"a","u":483,"v":1357},{"g":"b","u":483,"v":1357},{"g":"b","u":662,"v":1048},{"g":"c","u":662,"v":1048},{"g":"c","u":676,"v":488},
{"g":"d","u":945,"v":1170},{"g":"d","u":1215,"v":1357},{"g":"e","u":1215,"v":1357},{"g":"e","u":1358,"v":1048},{"g":"f","u":1358,"v":1048},{"g":"f","u":1368,"v":488}
]},"mark":{"type":"line","color":"#222","strokeWidth":1.5},"encoding":{"detail":{"field":"g"}}},
{"data":{"values":[
{"u":243,"v":1060,"v2":1065},{"u":245,"v":1000,"v2":1110},{"u":250,"v":940,"v2":1130},{"u":260,"v":830,"v2":1150},{"u":280,"v":760,"v2":1172},{"u":300,"v":700,"v2":1190},{"u":340,"v":640,"v2":1212},{"u":380,"v":608,"v2":1225},{"u":400,"v":600,"v2":1228},{"u":440,"v":615,"v2":1228},{"u":470,"v":650,"v2":1222},{"u":500,"v":690,"v2":1205},{"u":520,"v":725,"v2":1190},{"u":540,"v":800,"v2":1165},{"u":555,"v":870,"v2":1140},{"u":565,"v":930,"v2":1120},{"u":570,"v":960,"v2":1100},{"u":575,"v":1060,"v2":1065}
]},"mark":{"type":"area","color":{"x1":0,"y1":0,"x2":0,"y2":1,"gradient":"linear","stops":[{"offset":0,"color":"rgba(200,196,196,0.8)"},{"offset":0.35,"color":"rgba(226,224,224,0.65)"},{"offset":0.65,"color":"rgba(236,236,230,0.6)"},{"offset":1,"color":"rgba(232,232,226,0.7)"}]}},"encoding":{"y2":{"field":"v2"}}},
{"data":{"values":[{"u":243,"v":1060},{"u":245,"v":1000},{"u":250,"v":940},{"u":260,"v":830},{"u":280,"v":760},{"u":300,"v":700},{"u":340,"v":640},{"u":380,"v":608},{"u":400,"v":600}]},"mark":{"type":"line","color":"#a8a8a8","strokeWidth":1.5}},
{"data":{"values":[{"u":400,"v":600},{"u":440,"v":615},{"u":470,"v":650},{"u":500,"v":690},{"u":520,"v":725},{"u":540,"v":800},{"u":555,"v":870},{"u":565,"v":930},{"u":570,"v":960},{"u":575,"v":1060}]},"mark":{"type":"line","color":"#dcdca8","strokeWidth":2}},
{"data":{"values":[{"u":388,"v":612},{"u":394,"v":608},{"u":400,"v":606},{"u":406,"v":608},{"u":412,"v":612},{"u":392,"v":617},{"u":398,"v":615},{"u":404,"v":616},{"u":410,"v":618}]},"mark":{"type":"point","filled":true,"color":"#46499a","opacity":0.9,"size":40}},
{"data":{"values":[{"u":404,"v":622},{"u":414,"v":622}]},"mark":{"type":"point","filled":true,"color":"#b2302f","opacity":0.8,"size":14}},
{"data":{"values":[{"l":"−5","u":213,"v":1292},{"l":"0","u":297,"v":1345},{"l":"5","u":385,"v":1390},{"l":"−5","u":550,"v":1345},{"l":"0","u":595,"v":1263},{"l":"5","u":640,"v":1187},{"l":"0","u":690,"v":1037},{"l":"5","u":697,"v":778},{"l":"−1.0","u":977,"v":1283},{"l":"−0.5","u":1075,"v":1343},{"l":"0.0","u":1155,"v":1408},{"l":"−0.5","u":1257,"v":1385},{"l":"0.0","u":1305,"v":1275},{"l":"0.5","u":1350,"v":1172},{"l":"8.0","u":1385,"v":965},{"l":"8.5","u":1388,"v":785},{"l":"9.0","u":1393,"v":595}]},"mark":{"type":"text","font":"DejaVu Sans","fontSize":30,"color":"#000"},"encoding":{"text":{"field":"l"}}},
{"data":{"values":[{"l":"X [mm]","u":285,"v":1365},{"l":"X [mm]","u":1055,"v":1378}]},"mark":{"type":"text","font":"DejaVu Sans","fontSize":30,"angle":28,"color":"#000"},"encoding":{"text":{"field":"l"}}},
{"data":{"values":[{"l":"Y [mm]","u":615,"v":1285},{"l":"Y [mm]","u":1330,"v":1290}]},"mark":{"type":"text","font":"DejaVu Sans","fontSize":30,"angle":300,"color":"#000"},"encoding":{"text":{"field":"l"}}},
{"data":{"values":[{"l":"Z [mm]","u":727,"v":765},{"l":"Z [mm]","u":1418,"v":765}]},"mark":{"type":"text","font":"DejaVu Sans","fontSize":30,"angle":270,"color":"#000"},"encoding":{"text":{"field":"l"}}}
]},
{"data":{"values":[
{"a":828,"b":237,"T":12.1},{"a":505,"b":232,"T":12.3},{"a":805,"b":225,"T":12.4},{"a":525,"b":235,"T":12.5},{"a":545,"b":228,"T":12.7},{"a":570,"b":225,"T":12.8},{"a":780,"b":228,"T":12.9},{"a":600,"b":228,"T":13},{"a":625,"b":222,"T":13.1},{"a":490,"b":222,"T":13.2},{"a":470,"b":205,"T":13.3},{"a":860,"b":200,"T":13.4},{"a":870,"b":185,"T":13.5},{"a":820,"b":170,"T":13.6},{"a":840,"b":185,"T":13.7},{"a":850,"b":165,"T":13.8},{"a":880,"b":170,"T":13.9},{"a":890,"b":182,"T":14},{"a":390,"b":205,"T":14.2},{"a":330,"b":205,"T":14.3},{"a":300,"b":180,"T":14.4},{"a":360,"b":190,"T":14.5},{"a":315,"b":187,"T":14.55},{"a":385,"b":178,"T":14.6},{"a":345,"b":200,"T":14.7},{"a":820,"b":212,"T":15},{"a":800,"b":190,"T":15.2},{"a":795,"b":210,"T":15.3},{"a":780,"b":205,"T":15.4},{"a":765,"b":195,"T":15.6},{"a":750,"b":215,"T":15.9},{"a":575,"b":205,"T":16},{"a":600,"b":210,"T":16.2},{"a":620,"b":205,"T":16.3},{"a":640,"b":215,"T":16.5},{"a":560,"b":215,"T":16.7},{"a":590,"b":215,"T":17},{"a":680,"b":220,"T":17.3},{"a":720,"b":220,"T":17.5},{"a":735,"b":205,"T":17.6},{"a":660,"b":205,"T":17.8},{"a":440,"b":195,"T":17.9},{"a":700,"b":190,"T":18},{"a":690,"b":210,"T":18.1},{"a":740,"b":185,"T":18.2},{"a":780,"b":170,"T":18.5},{"a":760,"b":180,"T":18.6},{"a":750,"b":165,"T":18.8},{"a":650,"b":180,"T":18.9},{"a":450,"b":203,"T":18.95},{"a":725,"b":170,"T":19},{"a":680,"b":190,"T":19.1},{"a":640,"b":165,"T":19.2},{"a":600,"b":175,"T":19.3},{"a":470,"b":150,"T":19.5},{"a":430,"b":160,"T":19.55},{"a":530,"b":205,"T":19.6},{"a":505,"b":195,"T":19.65},{"a":560,"b":195,"T":19.7},{"a":410,"b":165,"T":19.75},{"a":490,"b":185,"T":19.8},{"a":620,"b":190,"T":19.9},{"a":590,"b":190,"T":19.95},{"a":460,"b":170,"T":20},{"a":520,"b":170,"T":20.1},{"a":580,"b":160,"T":20.2},
{"a":-26,"b":198,"T":20.29},{"a":290,"b":155,"T":20.3},{"a":350,"b":185,"T":20.33},{"a":440,"b":170,"T":20.36},{"a":310,"b":165,"T":20.39},{"a":545,"b":172,"T":20.42},{"a":380,"b":145,"T":20.45},{"a":590,"b":150,"T":20.48},{"a":260,"b":130,"T":20.5},{"a":625,"b":150,"T":20.53},{"a":415,"b":120,"T":20.56},{"a":480,"b":130,"T":20.58},{"a":710,"b":150,"T":20.6},{"a":220,"b":165,"T":20.63},{"a":335,"b":130,"T":20.66},{"a":510,"b":125,"T":20.69},{"a":225,"b":125,"T":20.72},{"a":510,"b":170,"T":20.75},{"a":285,"b":125,"T":20.78},{"a":580,"b":115,"T":20.8},{"a":190,"b":190,"T":20.82},{"a":315,"b":115,"T":20.84},{"a":635,"b":130,"T":20.86},{"a":140,"b":135,"T":20.88},{"a":675,"b":170,"T":20.9},{"a":120,"b":165,"T":20.92},{"a":670,"b":125,"T":20.94},{"a":850,"b":140,"T":20.95},{"a":950,"b":170,"T":20.96},{"a":960,"b":180,"T":20.97},{"a":165,"b":205,"T":20.98},{"a":170,"b":128,"T":20.99},{"a":120,"b":185,"T":20.995},{"a":210,"b":200,"T":21}
]},
"encoding":{"x":{"field":"a","type":"quantitative","scale":{"domain":[0,1020],"range":[2580,2920],"nice":false},"axis":null},"y":{"field":"b","type":"quantitative","scale":{"domain":[0,480],"range":[920,1080],"nice":false},"axis":null}},
"layer":[
{"transform":[{"filter":"datum.T>=20.29"}],"mark":{"type":"line","color":"#808080","strokeWidth":3.5},"encoding":{"order":{"field":"T"}}},
{"mark":{"type":"point","filled":true,"size":95,"opacity":0.85,"stroke":"#8a8a8a","strokeWidth":1.5},"encoding":{"color":{"field":"T","type":"quantitative","scale":{"scheme":"spectral","domain":[12,21]},"legend":{"orient":"none","legendX":3062,"legendY":751,"title":null,"direction":"vertical","gradientLength":472,"gradientThickness":24,"gradientOpacity":1,"values":[13,14,15,16,17,18,19,20],"format":"d","labelFont":"DejaVu Sans","labelFontSize":17,"labelColor":"#000","labelOverlap":false,"gradientStrokeColor":"#888","gradientStrokeWidth":1}}}}
]},
{"resolve":{"axis":{"x":"independent","y":"independent"}},"data":{"values":[
{"t":15,"v":16.8},{"t":15.04,"v":16},{"t":15.08,"v":16.5},{"t":15.12,"v":15.7},{"t":15.17,"v":16.2},{"t":15.22,"v":15.8},{"t":15.25,"v":16.6},{"t":15.3,"v":15.9},{"t":15.36,"v":15.6},{"t":15.4,"v":15},{"t":15.45,"v":15.9},{"t":15.5,"v":15.4},{"t":15.55,"v":16.4},{"t":15.6,"v":16.1},{"t":15.64,"v":16.9},{"t":15.7,"v":16.5},{"t":15.78,"v":16.1},{"t":15.85,"v":16.6},{"t":15.92,"v":16},{"t":16,"v":16.6},{"t":16.06,"v":16.2},{"t":16.13,"v":16.7},{"t":16.2,"v":16.2},{"t":16.27,"v":15.8},{"t":16.35,"v":16.3},{"t":16.42,"v":16},{"t":16.5,"v":16.2},{"t":16.58,"v":15.7},{"t":16.65,"v":15.9},{"t":16.72,"v":15.3},{"t":16.8,"v":15.6},{"t":16.85,"v":15.3},{"t":16.9,"v":16.6},{"t":16.96,"v":15.9},{"t":17,"v":16.7},{"t":17.08,"v":16.2},{"t":17.15,"v":16.4},{"t":17.22,"v":15.9},{"t":17.3,"v":16.3},{"t":17.38,"v":16.9},{"t":17.45,"v":17.4},{"t":17.52,"v":17.2},{"t":17.58,"v":18},{"t":17.63,"v":18},{"t":17.68,"v":19.2},{"t":17.74,"v":20.3},{"t":17.8,"v":21.3},{"t":17.85,"v":21},{"t":17.9,"v":22},{"t":17.95,"v":21.3},{"t":18.02,"v":23},{"t":18.1,"v":23.8},{"t":18.16,"v":23},{"t":18.22,"v":23.9},{"t":18.28,"v":23},{"t":18.35,"v":23.9},{"t":18.42,"v":23.1},{"t":18.5,"v":24.3},{"t":18.56,"v":25.4},{"t":18.62,"v":24.5},{"t":18.68,"v":25.3},{"t":18.74,"v":24.6},{"t":18.8,"v":25.3},{"t":18.86,"v":25},{"t":18.92,"v":26.6},{"t":18.97,"v":25.6},{"t":19.03,"v":28},{"t":19.08,"v":26.1},{"t":19.13,"v":27},{"t":19.19,"v":26},{"t":19.25,"v":27.6},{"t":19.3,"v":26.2},{"t":19.36,"v":27.9},{"t":19.4,"v":26.9},{"t":19.45,"v":28.6},{"t":19.5,"v":27.3},{"t":19.55,"v":28.2},{"t":19.62,"v":27.5},{"t":19.7,"v":27.1},
{"t":19.73,"v":28.6},{"t":19.75,"v":29.9},{"t":19.77,"v":28.9},{"t":19.82,"v":29.9},{"t":19.86,"v":31.5},{"t":19.89,"v":30.7},{"t":19.93,"v":33.1},{"t":19.985,"v":34.2},{"t":20.02,"v":33.4},{"t":20.07,"v":32.7},{"t":20.11,"v":33.4},{"t":20.14,"v":32.3},{"t":20.18,"v":35.1},{"t":20.21,"v":34.4},{"t":20.24,"v":34.2},{"t":20.27,"v":35.2},{"t":20.29,"v":30},{"t":20.31,"v":33.9},{"t":20.34,"v":31.3},{"t":20.36,"v":34.2},{"t":20.37,"v":36.6},{"t":20.4,"v":30.7},{"t":20.45,"v":28.9},{"t":20.47,"v":30.7},{"t":20.51,"v":29.1},{"t":20.54,"v":30.4},{"t":20.57,"v":29.7},{"t":20.61,"v":29.9},{"t":20.64,"v":31.8},{"t":20.68,"v":32},{"t":20.72,"v":34.2},{"t":20.77,"v":33.9},{"t":20.81,"v":35.5},{"t":20.835,"v":31},{"t":20.845,"v":36.8},{"t":20.89,"v":33.9},{"t":20.9,"v":37.9},{"t":20.91,"v":32.9},{"t":20.915,"v":43.4},{"t":20.93,"v":38.7},{"t":20.95,"v":36},{"t":20.98,"v":33.7},{"t":21.005,"v":37.6},{"t":21.05,"v":37.1},{"t":21.07,"v":35.5},{"t":21.1,"v":39.2},{"t":21.13,"v":37.1},{"t":21.15,"v":32.3},{"t":21.16,"v":43.7},{"t":21.18,"v":33.9},{"t":21.19,"v":44.2},{"t":21.21,"v":34.7},{"t":21.22,"v":43.9},{"t":21.25,"v":41},{"t":21.27,"v":39.2},{"t":21.29,"v":35.5},{"t":21.31,"v":42.9},{"t":21.33,"v":33.9},{"t":21.345,"v":37.3},{"t":21.375,"v":41.3},{"t":21.4,"v":39.2},{"t":21.41,"v":45},{"t":21.42,"v":48.2},{"t":21.43,"v":35},{"t":21.445,"v":50},{"t":21.455,"v":30},{"t":21.47,"v":45.5},{"t":21.48,"v":42.4},{"t":21.49,"v":22.3},{"t":21.505,"v":29.2},{"t":21.525,"v":23.3},{"t":21.545,"v":35},{"t":21.56,"v":27},{"t":21.59,"v":21},{"t":21.6,"v":28.4},{"t":21.63,"v":22.3},{"t":21.65,"v":27.6},{"t":21.67,"v":21},{"t":21.695,"v":30.7},{"t":21.71,"v":26.5},{"t":21.73,"v":36.3},{"t":21.75,"v":25.2},{"t":21.77,"v":33.9},{"t":21.785,"v":27},{"t":21.795,"v":26.5},{"t":21.81,"v":32},{"t":21.82,"v":32.9},{"t":21.84,"v":27.6},{"t":21.855,"v":33},{"t":21.865,"v":33.4},{"t":21.885,"v":27.8},{"t":21.895,"v":34.5},{"t":21.92,"v":22},{"t":21.94,"v":32.9},{"t":21.96,"v":28.4},{"t":21.98,"v":26},{"t":22,"v":31},{"t":22.015,"v":35.8},{"t":22.025,"v":27},{"t":22.035,"v":26},{"t":22.05,"v":34.2},{"t":22.06,"v":28},{"t":22.07,"v":25.2},{"t":22.08,"v":31},{"t":22.09,"v":32.9},{"t":22.105,"v":27},{"t":22.12,"v":37.1},{"t":22.13,"v":29},{"t":22.14,"v":26.5},{"t":22.155,"v":33},{"t":22.17,"v":34.7},{"t":22.185,"v":28},{"t":22.205,"v":28.1},{"t":22.215,"v":36.8},{"t":22.225,"v":29},{"t":22.235,"v":23.6},{"t":22.25,"v":33},{"t":22.26,"v":35.5},{"t":22.27,"v":28},{"t":22.29,"v":30.2},{"t":22.305,"v":34},{"t":22.32,"v":38.7},{"t":22.33,"v":25.2},{"t":22.34,"v":36},{"t":22.35,"v":41.9},{"t":22.36,"v":29},{"t":22.375,"v":27},{"t":22.39,"v":35},{"t":22.4,"v":39.2},{"t":22.41,"v":29},{"t":22.425,"v":36},{"t":22.44,"v":26.5},{"t":22.455,"v":34},{"t":22.47,"v":37.6},{"t":22.48,"v":28},{"t":22.49,"v":27},{"t":22.51,"v":35},{"t":22.53,"v":38.1},{"t":22.545,"v":29},{"t":22.565,"v":26.5},{"t":22.58,"v":34},{"t":22.59,"v":38.1},{"t":22.605,"v":29},{"t":22.63,"v":28.6},{"t":22.645,"v":35},{"t":22.66,"v":29},{"t":22.68,"v":38.4},{"t":22.695,"v":30},{"t":22.71,"v":27.6},{"t":22.73,"v":37.6},{"t":22.745,"v":30},{"t":22.77,"v":28.6},{"t":22.785,"v":35},{"t":22.805,"v":24.9},{"t":22.82,"v":36.8},{"t":22.84,"v":29},{"t":22.86,"v":28.3},{"t":22.875,"v":33},{"t":22.895,"v":30.2},{"t":22.915,"v":26.5},{"t":22.93,"v":33},{"t":22.95,"v":37.6},{"t":22.965,"v":28},{"t":22.97,"v":29.7},{"t":22.985,"v":33},{"t":23,"v":33.9}
]},
"layer":[
{"data":{"values":[{"v":20},{"v":40}]},"mark":{"type":"rule","color":"#b8b8b8","strokeWidth":2.5},"encoding":{"x":{"datum":15,"scale":{"domain":[15,23],"range":[1647.5,3090],"nice":false},"axis":{"orient":"bottom","offset":-98,"title":"time (s)","titleFont":"DejaVu Sans","titleFontSize":38,"titleFontWeight":"normal","titleColor":"#000","titleY":78,"titleBaseline":"middle","values":[15,16,17,18,19,20,21,22,23],"format":"d","labelFlush":false,"labelFont":"DejaVu Sans","labelFontSize":36,"labelColor":"#000","labelPadding":10,"tickSize":6,"tickWidth":2,"tickColor":"#222","domain":false,"grid":false}},"x2":{"datum":23},"y":{"field":"v","type":"quantitative","scale":{"domain":[0,60],"range":[1767,1389],"nice":false},"axis":{"orient":"left","offset":-1647.5,"title":"theta","titleFont":"DejaVu Sans","titleFontSize":40,"titleFontWeight":"normal","titleColor":"#1e90ff","titleX":-93,"titleBaseline":"middle","values":[0,20,40,60],"format":"d","labelFont":"DejaVu Sans","labelFontSize":36,"labelColor":"#1e90ff","labelPadding":10,"tickSize":6,"tickWidth":2,"tickColor":"#222","domain":false,"grid":false}}}},
{"mark":{"type":"line","color":"#1e90ff","strokeWidth":3},"encoding":{"x":{"field":"t","type":"quantitative","axis":null},"y":{"field":"v","type":"quantitative","axis":null}}},
{"data":{"values":[{"v":35}]},"mark":{"type":"rule","color":"#8fc15f","strokeWidth":3.5},"encoding":{"x":{"datum":15,"axis":null},"x2":{"datum":23},"y":{"field":"v","type":"quantitative","axis":null}}}
]},
{"resolve":{"axis":{"x":"independent","y":"independent"}},"layer":[
{"data":{"values":[
{"t":15,"v":0},{"t":15.05,"v":0.1},{"t":15.09,"v":0.02},{"t":15.13,"v":0.09},{"t":15.17,"v":0.13},{"t":15.22,"v":0.09},{"t":15.26,"v":0.03},{"t":15.3,"v":0.1},{"t":15.34,"v":0.06},{"t":15.38,"v":0.14},{"t":15.43,"v":0.15},{"t":15.48,"v":0.05},{"t":15.54,"v":0.1},{"t":15.6,"v":0.03},{"t":15.66,"v":0.09},{"t":15.72,"v":0.02},{"t":15.78,"v":0.08},{"t":15.84,"v":0.01},{"t":15.9,"v":0.07},{"t":15.96,"v":0.03},{"t":16.02,"v":0.09},{"t":16.08,"v":0.05},{"t":16.13,"v":0.11},{"t":16.18,"v":0.02},{"t":16.24,"v":0.09},{"t":16.3,"v":0},{"t":16.36,"v":0.03},{"t":16.42,"v":0.04},{"t":16.47,"v":0.12},{"t":16.52,"v":0.04},{"t":16.57,"v":0.09},{"t":16.62,"v":0.03},{"t":16.7,"v":0.04},{"t":16.78,"v":0.03},{"t":16.84,"v":0.08},{"t":16.89,"v":0},{"t":16.93,"v":0.06},{"t":17,"v":0.05},{"t":17.06,"v":0.08},{"t":17.12,"v":0.04},{"t":17.17,"v":0.1},{"t":17.22,"v":0.02},{"t":17.28,"v":0.05},{"t":17.35,"v":0.02},{"t":17.42,"v":0.05},{"t":17.46,"v":0.01},{"t":17.5,"v":0.12},{"t":17.55,"v":0.07},{"t":17.6,"v":0.09},{"t":17.65,"v":0.02},{"t":17.72,"v":0.12},{"t":17.77,"v":0.05},{"t":17.83,"v":0.07},{"t":17.88,"v":0.04},{"t":17.96,"v":0.165},{"t":18.02,"v":0.07},{"t":18.07,"v":0.06},{"t":18.13,"v":0.11},{"t":18.19,"v":0.03},{"t":18.26,"v":0.13},{"t":18.3,"v":0.04},{"t":18.37,"v":0.06},{"t":18.42,"v":0.03},{"t":18.5,"v":0.09},{"t":18.55,"v":0.02},{"t":18.6,"v":0.05},{"t":18.67,"v":0.09},{"t":18.72,"v":0.01},{"t":18.78,"v":0.07},{"t":18.85,"v":0.02},{"t":18.92,"v":0.05},{"t":19,"v":0.11},{"t":19.05,"v":0.03},{"t":19.1,"v":0.09},{"t":19.16,"v":0.01},{"t":19.22,"v":0.09},{"t":19.28,"v":0.03},{"t":19.35,"v":0.05},{"t":19.42,"v":0.02},{"t":19.5,"v":0.06},{"t":19.56,"v":0},{"t":19.62,"v":0.04},{"t":19.67,"v":0.01},{"t":19.73,"v":0.04},
{"t":19.75,"v":0.03},{"t":19.77,"v":0.03},{"t":19.79,"v":0.095},{"t":19.82,"v":0.04},{"t":19.85,"v":0.06},{"t":19.88,"v":0.016},{"t":19.94,"v":0.087},{"t":19.97,"v":0.095},{"t":19.985,"v":0.055},{"t":20.01,"v":0.127},{"t":20.03,"v":0.055},{"t":20.05,"v":0.095},{"t":20.07,"v":0.05},{"t":20.09,"v":0.077},{"t":20.11,"v":0.05},{"t":20.14,"v":0.04},{"t":20.18,"v":0.1},{"t":20.21,"v":0.07},{"t":20.25,"v":0.095},{"t":20.295,"v":0.063},{"t":20.325,"v":0.175},{"t":20.34,"v":0.267},{"t":20.365,"v":0.24},{"t":20.39,"v":0.087},{"t":20.4,"v":0.087},{"t":20.42,"v":0.267},{"t":20.44,"v":0.347},{"t":20.46,"v":0.36},{"t":20.485,"v":0.14},{"t":20.5,"v":0.228},{"t":20.526,"v":0.108},{"t":20.55,"v":0.055},{"t":20.57,"v":0.06},{"t":20.586,"v":0.103},{"t":20.605,"v":0.063},{"t":20.626,"v":0.108},{"t":20.655,"v":0.074},{"t":20.71,"v":0.055},{"t":20.725,"v":0.095},{"t":20.745,"v":0.016},{"t":20.765,"v":0.307},{"t":20.78,"v":0.135},{"t":20.805,"v":0.175},{"t":20.82,"v":0.12},{"t":20.84,"v":0.148},{"t":20.86,"v":0.087},{"t":20.885,"v":0.386},{"t":20.9,"v":0.087},{"t":20.925,"v":0.55},{"t":20.945,"v":0.254},{"t":20.97,"v":0.28},{"t":20.98,"v":0.54},{"t":21.005,"v":0.466},{"t":21.025,"v":0.347},{"t":21.05,"v":0.352},{"t":21.07,"v":0.16},{"t":21.085,"v":0.095},{"t":21.125,"v":0.466},{"t":21.145,"v":0.32},{"t":21.17,"v":0.373},{"t":21.18,"v":0.524},{"t":21.21,"v":0.4},{"t":21.22,"v":0.18},{"t":21.26,"v":0.188},{"t":21.29,"v":0.267},{"t":21.3,"v":0.54},{"t":21.325,"v":0.513},{"t":21.34,"v":0.07},{"t":21.365,"v":0.12},{"t":21.38,"v":0.418},{"t":21.4,"v":0.095},{"t":21.42,"v":0.175},{"t":21.445,"v":1.048},{"t":21.465,"v":0.108},{"t":21.49,"v":1.114},{"t":21.505,"v":0.466},{"t":21.53,"v":3},{"t":21.59,"v":3},{"t":21.61,"v":0.876},{"t":21.63,"v":2.08},{"t":21.65,"v":0.79},{"t":21.67,"v":1.034},{"t":21.705,"v":0.915},{"t":21.785,"v":0.709},{"t":21.87,"v":0.016},{"t":21.89,"v":0.08},{"t":21.97,"v":0.116},{"t":21.995,"v":0.1},{"t":22.025,"v":0.108},{"t":22.21,"v":0.09},{"t":22.235,"v":0.034},{"t":22.31,"v":0.016},{"t":22.375,"v":0.03},{"t":22.49,"v":0.016},{"t":22.7,"v":0.016},{"t":22.72,"v":0.03},{"t":22.77,"v":0.016},{"t":22.915,"v":0.016},{"t":22.96,"v":0.03},{"t":23,"v":0.021}
]},
"mark":{"type":"line","color":"#ffa500","strokeWidth":3},
"encoding":{"x":{"field":"t","type":"quantitative","scale":{"domain":[15,23],"range":[1647.5,3090],"nice":false},"axis":null},"y":{"field":"v","type":"quantitative","scale":{"domain":[0,3],"range":[1767,1389],"nice":false},"axis":{"orient":"right","offset":-90,"title":"object acceleration","titleFont":"DejaVu Sans","titleFontSize":40,"titleFontWeight":"normal","titleColor":"#ffa500","titleAngle":-90,"titleX":65,"titleBaseline":"middle","values":[0,1,2,3],"format":"d","labelFont":"DejaVu Sans","labelFontSize":36,"labelColor":"#ffa500","labelPadding":10,"tickSize":6,"tickWidth":2,"tickColor":"#222","domain":false,"grid":false}}}},
{"data":{"values":[{"t":20.29},{"t":20.385},{"t":20.735}]},"mark":{"type":"rule","color":"#ff3b20","strokeWidth":2},"encoding":{"x":{"field":"t","type":"quantitative","axis":null},"y":{"datum":0,"axis":null},"y2":{"datum":3.02}}},
{"data":{"values":[{"v":0},{"v":3}]},"mark":{"type":"rule","color":"#333","strokeWidth":3.5},"encoding":{"x":{"datum":15,"axis":null},"x2":{"datum":23},"y":{"field":"v","type":"quantitative","axis":null}}},
{"data":{"values":[{"t":15},{"t":23}]},"mark":{"type":"rule","color":"#444","strokeWidth":1.5},"encoding":{"x":{"field":"t","type":"quantitative","axis":null},"y":{"datum":0,"axis":null},"y2":{"datum":3}}}
]},
{"layer":[
{"data":{"values":[{}]},"mark":{"type":"text","text":"Contact Location","font":"Liberation Sans","fontWeight":"bold","fontSize":42,"color":"#000"},"encoding":{"x":{"datum":14.25,"scale":{"domain":[0,100],"range":[0,3180],"nice":false},"axis":null},"y":{"datum":3,"scale":{"domain":[0,100],"range":[0,1865],"nice":false},"axis":null}}},
{"data":{"values":[{}]},"mark":{"type":"text","text":"Normal Force","font":"Liberation Sans","fontWeight":"bold","fontSize":42,"color":"#000"},"encoding":{"x":{"datum":35.19,"axis":null},"y":{"datum":3.38,"axis":null}}},
{"data":{"values":[{}]},"mark":{"type":"text","text":"A","font":"Open Sans","fontWeight":600,"fontSize":128,"color":"#00007f"},"encoding":{"x":{"datum":2.2,"axis":null},"y":{"datum":5,"axis":null}}},
{"data":{"values":[{}]},"mark":{"type":"text","text":"B","font":"Open Sans","fontWeight":600,"fontSize":128,"color":"#00007f"},"encoding":{"x":{"datum":46.7,"axis":null},"y":{"datum":4.5,"axis":null}}},
{"data":{"values":[{}]},"mark":{"type":"text","text":"C","font":"Open Sans","fontWeight":600,"fontSize":128,"color":"#00007f"},"encoding":{"x":{"datum":47.6,"axis":null},"y":{"datum":75.3,"axis":null}}},
{"data":{"values":[{}]},"mark":{"type":"text","text":"Intrinsic Tactile Sensing","font":"DejaVu Sans","fontSize":39.5,"color":"#000"},"encoding":{"x":{"datum":73.04,"axis":null},"y":{"datum":1.3,"axis":null}}},
{"data":{"values":[{}]},"mark":{"type":"text","text":"Forces (N)","font":"DejaVu Sans","fontSize":30,"color":"#000"},"encoding":{"x":{"datum":60.53,"axis":null},"y":{"datum":3.97,"axis":null}}},
{"data":{"values":[{}]},"mark":{"type":"text","text":"Torques (Nm)","font":"DejaVu Sans","fontSize":31,"color":"#000"},"encoding":{"x":{"datum":88.14,"axis":null},"y":{"datum":3.97,"axis":null}}},
{"data":{"values":[{}]},"mark":{"type":"text","text":"meanX=-0.32, meanY=0.06, meanZ=8.49","font":"DejaVu Sans","fontSize":30,"color":"#000"},"encoding":{"x":{"datum":60.57,"axis":null},"y":{"datum":35.87,"axis":null}}},
{"data":{"values":[{}]},"mark":{"type":"text","text":"mean radius=8.50 (expect 8.50)","font":"DejaVu Sans","fontSize":30,"color":"#000"},"encoding":{"x":{"datum":60.57,"axis":null},"y":{"datum":37.69,"axis":null}}},
{"data":{"values":[{}]},"mark":{"type":"text","text":"stdX=0.18, stdY=0.08, stdZ=0.01","font":"DejaVu Sans","fontSize":30,"color":"#000"},"encoding":{"x":{"datum":60.57,"axis":null},"y":{"datum":39.52,"axis":null}}},
{"data":{"values":[{}]},"mark":{"type":"text","text":"Zoom In","font":"DejaVu Sans","fontSize":30,"color":"#000"},"encoding":{"x":{"datum":85.8,"axis":null},"y":{"datum":41.3,"axis":null}}},
{"data":{"values":[{}]},"mark":{"type":"text","text":"Slip Predictory Parameter","font":"DejaVu Sans","fontSize":48,"color":"#000"},"encoding":{"x":{"datum":74.94,"axis":null},"y":{"datum":73.08,"axis":null}}},
{"data":{"values":[{}]},"mark":{"type":"text","text":"Time (s)","font":"DejaVu Sans","fontSize":28,"angle":270,"color":"#000"},"encoding":{"x":{"datum":98.7,"axis":null},"y":{"datum":52.9,"axis":null}}}
]}
]}
